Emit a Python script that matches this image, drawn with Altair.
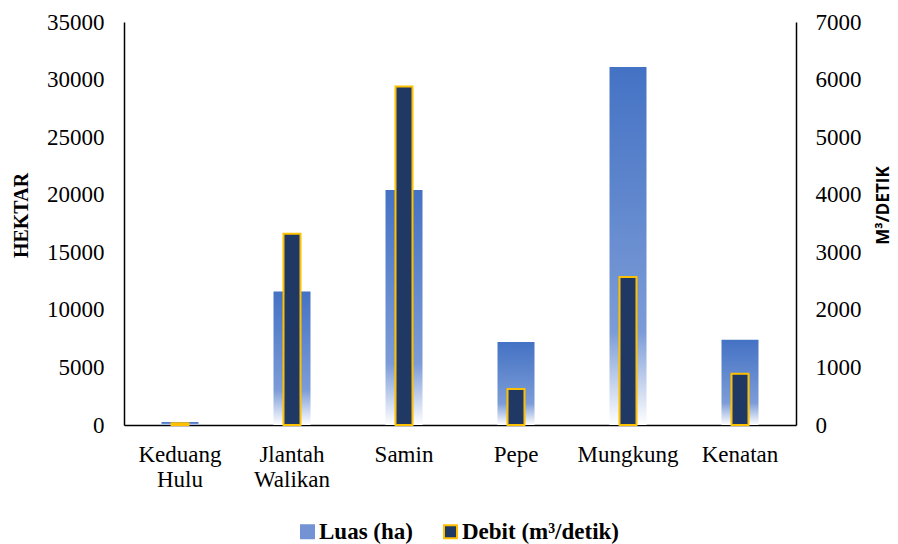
import altair as alt
import pandas as pd

categories = ["Keduang Hulu", "Jlantah Walikan", "Samin", "Pepe", "Mungkung", "Kenatan"]
luas_ha = [260, 11600, 20400, 7200, 31100, 7400]
debit_m3 = [30, 3320, 5880, 625, 2570, 890]
series_names = ["Luas (ha)", "Debit (m³/detik)"]

df = pd.DataFrame({
    "kategori": categories,
    "luas": luas_ha,
    "debit": debit_m3,
    "seri": [series_names[1]] * len(categories),
})

serif = "'Times New Roman', 'Liberation Serif', serif"

x_enc = alt.X(
    "kategori:N",
    sort=categories,
    title=None,
    scale=alt.Scale(paddingInner=0, paddingOuter=0),
    axis=alt.Axis(
        labelAngle=0,
        labelFont=serif,
        labelFontSize=23,
        labelColor="black",
        labelPadding=18,
        labelLineHeight=25,
        labelExpr="split(datum.label, ' ')",
        ticks=False,
        tickSize=0,
        domainColor="black",
        domainWidth=1.5,
        grid=False,
    ),
)

grad = alt.Gradient(
    gradient="linear",
    stops=[
        alt.GradientStop(color="#4472C4", offset=0),
        alt.GradientStop(color="#7C9CD7", offset=0.74),
        alt.GradientStop(color="#FFFFFF", offset=1),
    ],
    x1=0, x2=0, y1=0, y2=1,
)

luas_layer = alt.Chart(df).mark_bar(fill=grad, size=37).encode(
    x=x_enc,
    y=alt.Y(
        "luas:Q",
        scale=alt.Scale(domain=[0, 35000], nice=False),
        axis=alt.Axis(
            title="HEKTAR",
            titleFont=serif,
            titleFontSize=20,
            titleFontWeight="bold",
            titleColor="black",
            titlePadding=15,
            titleY=193,
            values=list(range(0, 35001, 5000)),
            format="d",
            labelFont=serif,
            labelFontSize=23,
            labelColor="black",
            labelPadding=20,
            ticks=False,
            tickSize=0,
            domainColor="black",
            domainWidth=1.5,
            grid=False,
            orient="left",
        ),
    ),
)

debit_layer = alt.Chart(df).mark_bar(size=17, strokeWidth=2).encode(
    x=x_enc,
    y=alt.Y(
        "debit:Q",
        scale=alt.Scale(domain=[0, 7000], nice=False),
        axis=alt.Axis(
            title="M³/DETIK",
            titleFont="Open Sans",
            titleFontSize=17,
            titleFontWeight="bold",
            titleColor="black",
            titleAngle=270,
            titleBaseline="top",
            titlePadding=14,
            titleY=183,
            values=list(range(0, 7001, 1000)),
            format="d",
            labelFont=serif,
            labelFontSize=23,
            labelColor="black",
            labelPadding=19,
            ticks=False,
            tickSize=0,
            domainColor="black",
            domainWidth=1.5,
            grid=False,
            orient="right",
        ),
    ),
    color=alt.Color(
        "seri:N",
        scale=alt.Scale(domain=series_names, range=["#7393D4", "#203864"]),
        legend=alt.Legend(
            title=None,
            orient="none",
            legendX=172,
            legendY=498,
            direction="horizontal",
            labelFont=serif,
            labelFontSize=23,
            labelFontWeight="bold",
            labelColor="black",
            symbolType="square",
            symbolSize=170,
            symbolStrokeWidth=2,
            columnPadding=26,
            labelOffset=0,
        ),
    ),
    stroke=alt.Stroke(
        "seri:N",
        scale=alt.Scale(domain=series_names, range=["#7393D4", "#FFC000"]),
        legend=alt.Legend(title=None),
    ),
)

chart = (
    alt.layer(luas_layer, debit_layer)
    .resolve_scale(y="independent")
    .properties(
        width=672,
        height=403,
        autosize=alt.AutoSizeParams(type="none"),
        padding={"left": 124, "top": 22, "right": 102, "bottom": 119},
        background="white",
    )
    .configure_view(strokeOpacity=0)
)

chart.save("out.html", embed_options={"renderer": "svg", "actions": False})
